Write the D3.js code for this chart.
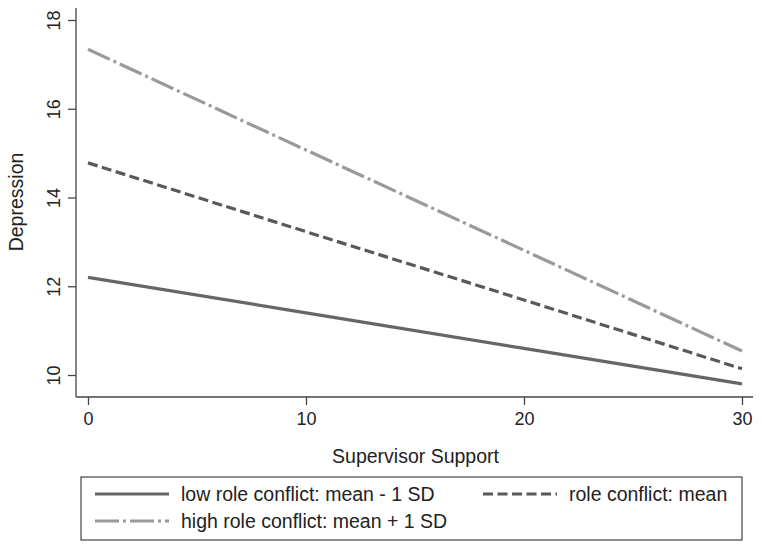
<!DOCTYPE html>
<html><head><meta charset="utf-8">
<script src="https://cdn.jsdelivr.net/npm/d3@7"></script>
<style>body{margin:0;background:#fff}svg{display:block}text{font-family:"Liberation Sans",Arial,sans-serif;fill:#222}</style>
</head><body>
<script>
const xValues = [0, 10, 20, 30];
const lowConflict = [12.2, 11.4, 10.6, 9.8];
const meanConflict = [14.78, 13.23, 11.69, 10.14];
const highConflict = [17.34, 15.07, 12.81, 10.54];
const xTicks = [0, 10, 20, 30];
const yTicks = [10, 12, 14, 16, 18];
const seriesNames = ["low role conflict: mean - 1 SD", "role conflict: mean", "high role conflict: mean + 1 SD"];

const W = 762, H = 549;
const FF = '"Liberation Sans",Arial,sans-serif';
const svg = d3.select("body").append("svg").attr("width", W).attr("height", H);
const x = d3.scaleLinear().domain([0, 30]).range([88, 742]);
const y = d3.scaleLinear().domain([10, 18]).range([375, 20]);

const axisColor = "#444";
svg.append("line").attr("x1", 76).attr("x2", 76).attr("y1", 8).attr("y2", 397).attr("stroke", axisColor).attr("stroke-width", 1.3);
svg.append("line").attr("x1", 76).attr("x2", 753).attr("y1", 397).attr("y2", 397).attr("stroke", axisColor).attr("stroke-width", 1.3);

const xa = svg.append("g").attr("transform", "translate(0,397)")
  .call(d3.axisBottom(x).tickValues(xTicks).tickSize(8).tickPadding(7).tickFormat(d3.format("d")));
xa.select(".domain").remove();
xa.selectAll("line").attr("stroke", axisColor).attr("stroke-width", 1.3);
xa.selectAll("text").attr("font-size", 18).attr("fill", "#222").style("font-family", FF);

const ya = svg.append("g").attr("transform", "translate(76,0)")
  .call(d3.axisLeft(y).tickValues(yTicks).tickSize(8).tickPadding(4).tickFormat(d3.format("d")));
ya.select(".domain").remove();
ya.selectAll("line").attr("stroke", axisColor).attr("stroke-width", 1.3);
ya.selectAll("text").attr("font-size", 18).attr("fill", "#222").style("font-family", FF)
  .attr("text-anchor", "middle").attr("x", 0).attr("dy", 0).attr("y", 0)
  .attr("transform", "translate(-22.5,0) rotate(-90)").attr("dominant-baseline", "central");

svg.append("text").attr("x", 415.5).attr("y", 463).attr("text-anchor", "middle").attr("font-size", 19.5).text("Supervisor Support");
svg.append("text").attr("transform", "translate(16,202) rotate(-90)").attr("text-anchor", "middle")
  .attr("dominant-baseline", "central").attr("font-size", 19.5).text("Depression");

const styles = [
  {data: lowConflict, color: "#666666", dash: null},
  {data: meanConflict, color: "#595959", dash: "10,4.5"},
  {data: highConflict, color: "#9a9a9a", dash: "24,4,3,4"}
];
const line = d3.line().x(d => x(d[0])).y(d => y(d[1]));
styles.forEach(s => {
  svg.append("path").datum(xValues.map((v, i) => [v, s.data[i]]))
    .attr("d", line).attr("fill", "none").attr("stroke", s.color).attr("stroke-width", 3.2)
    .attr("stroke-dasharray", s.dash);
});

// legend
svg.append("rect").attr("x", 81).attr("y", 477).attr("width", 661).attr("height", 63)
  .attr("fill", "none").attr("stroke", "#444").attr("stroke-width", 1.2);
const legPos = [{x: 95, y: 494}, {x: 483, y: 494}, {x: 95, y: 521}];
styles.forEach((s, i) => {
  const p = legPos[i];
  svg.append("line").attr("x1", p.x).attr("x2", p.x + 74).attr("y1", p.y).attr("y2", p.y)
    .attr("stroke", s.color).attr("stroke-width", 3.2).attr("stroke-dasharray", s.dash);
  svg.append("text").attr("x", p.x + 86).attr("y", p.y).attr("dominant-baseline", "central")
    .attr("font-size", 19.5).text(seriesNames[i]);
});
</script>
</body></html>
